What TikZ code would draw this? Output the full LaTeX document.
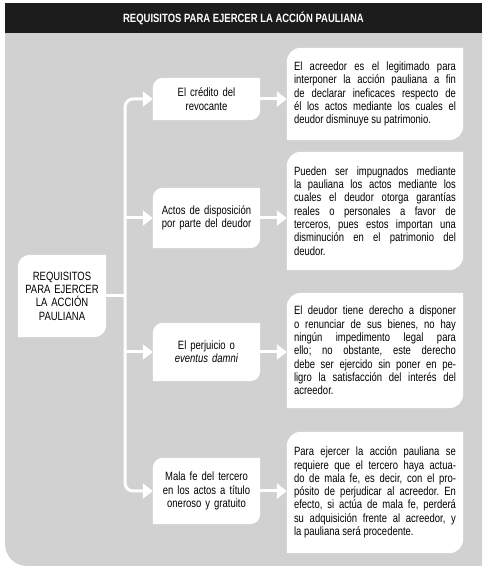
\documentclass[tikz,border=0pt]{standalone}
\usepackage{fontspec}
\setmainfont{Liberation Sans}[FakeStretch=0.79]
\usetikzlibrary{arrows.meta,backgrounds}
\definecolor{panelgray}{RGB}{209,209,209}
\definecolor{headblack}{RGB}{28,28,28}
\tikzset{
  every node/.style={font=\fontsize{12}{13.3}\selectfont\frenchspacing, inner sep=0pt},
  req/.style={minimum width=107pt, text width=100pt, align=center},
  note/.style={minimum width=176pt, text width=162pt, align=justify},
  link/.style={draw=white, line width=3pt},
  arrow/.style={link, -{Triangle[length=10pt,width=15pt]}}
}
\begin{document}
\begin{tikzpicture}[x=1pt,y=1pt,line cap=butt,line join=miter]
  \useasboundingbox (0,0) rectangle (485,571);

  % header
  \fill[headblack] (5,538) rectangle (482,568);
  \node[text=white, font=\fontsize{12}{14}\selectfont\bfseries] (title) at (243.5,553)
    {REQUISITOS PARA EJERCER LA ACCIÓN PAULIANA};

  % left box
  \node[minimum width=88pt, minimum height=82pt, text width=84pt, align=center] (root) at (62,275)
    {REQUISITOS\\PARA EJERCER\\LA ACCIÓN\\PAULIANA};

  % requisites
  \node[req, minimum height=42pt] (c1) at (206.5,472) {El crédito del\\revocante};
  \node[req, minimum height=60pt] (c2) at (206.5,353) {Actos de disposición\\por parte del deudor};
  \node[req, minimum height=58pt] (c3) at (206.5,219) {El perjuicio o\\\textit{eventus damni}};
  \node[req, minimum height=66pt] (c4) at (206.5,80) {Mala fe del tercero\\en los actos a título\\oneroso y gratuito};

  % explanations
  \node[note, minimum height=92pt] (t1) at (375,477)
    {El acreedor es el legitimado para\linebreak interponer la acción pauliana a fin\linebreak
     de declarar ineficaces respecto de\linebreak él los actos mediante los cuales el\linebreak
     deudor disminuye su patrimonio.};
  \node[note, minimum height=118pt] (t2) at (375,360)
    {Pueden ser impugnados mediante\linebreak la pauliana los actos mediante los\linebreak
     cuales el deudor otorga garantías\linebreak reales o personales a favor de\linebreak
     terceros, pues estos importan una\linebreak disminución en el patrimonio del\linebreak
     deudor.};
  \node[note, minimum height=115pt] (t3) at (375,220.5)
    {El deudor tiene derecho a disponer\linebreak o renunciar de sus bienes, no hay\linebreak
     ningún impedimento legal para\linebreak ello; no obstante, este derecho\linebreak
     debe ser ejercido sin poner en pe-\linebreak ligro la satisfacción del interés del\linebreak
     acreedor.};
  \node[note, minimum height=121pt] (t4) at (375,78.5)
    {Para ejercer la acción pauliana se\linebreak requiere que el tercero haya actua-\linebreak
     do de mala fe, es decir, con el pro-\linebreak pósito de perjudicar al acreedor. En\linebreak
     efecto, si actúa de mala fe, perderá\linebreak su adquisición frente al acreedor, y\linebreak
     la pauliana será procedente.};

  \begin{scope}[on background layer]
    \fill[panelgray] (5,538) -- (5,27) arc[start angle=180, end angle=270, radius=22]
      -- (482,5) -- (482,538) -- cycle;
    \foreach \n/\r in {root/12,c1/10,c2/10,c3/10,c4/10,t1/14,t2/14,t3/14,t4/14} {
      \fill[white] (\n.north east) -- ([xshift=\r]\n.north west)
        arc[start angle=90, end angle=180, radius=\r] -- (\n.south west)
        -- ([xshift=-\r]\n.south east) arc[start angle=270, end angle=360, radius=\r]
        -- cycle;
    }
  \end{scope}

  % connectors
  \coordinate (top) at (125,472);
  \coordinate (bot) at (125,80);
  \draw[link] (root.east) -- (root.east -| top);
  \draw[link, rounded corners=8pt, {Triangle[length=10pt,width=15pt]}-{Triangle[length=10pt,width=15pt]}]
    (c1.west) -- (top) -- (bot) -- (c4.west);
  \draw[arrow] (c2.west -| top) -- (c2.west);
  \draw[arrow] (c3.west -| top) -- (c3.west);
  \foreach \i in {1,...,4} {
    \draw[arrow] (c\i.east) -- (c\i.east -| t\i.west);
  }
\end{tikzpicture}
\end{document}
